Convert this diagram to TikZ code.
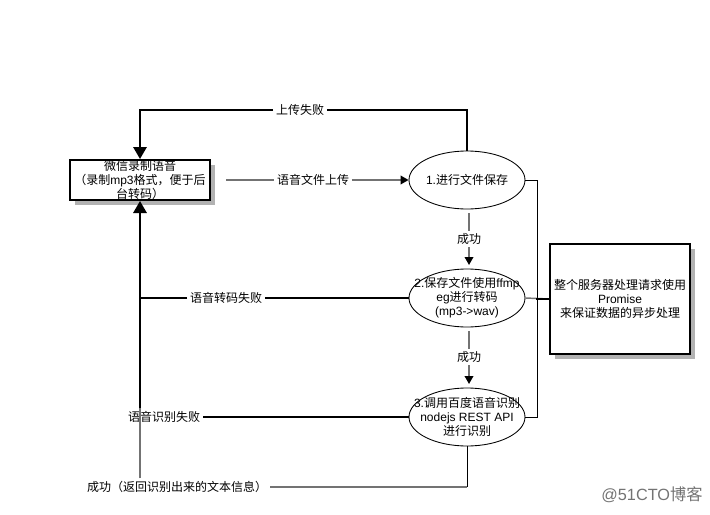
\documentclass[tikz,border=0pt]{standalone}
\usepackage{fontspec}
\setmainfont{Noto Sans CJK SC}
\newfontfamily\latinface{Liberation Sans}
\newcommand{\lat}[1]{{\latinface #1}}
\usepackage{tikz}
\usetikzlibrary{arrows.meta, positioning, shapes.geometric, shadows}

\tikzset{
    base font/.style={font=\fontsize{9}{10.5}\selectfont, align=center},
    shadowed/.style={draw, line width=1.5pt, fill=white, inner sep=0pt,
        drop shadow={shadow xshift=3.5pt, shadow yshift=-3.5pt, fill=gray!60, opacity=1}},
    stepnode/.style={draw, ellipse, fill=white, line width=0.65pt, inner sep=0pt,
        minimum width=87pt, minimum height=43.5pt},
    steptext/.style={base font, inner sep=0pt},
    edgelabel/.style={base font, fill=white, inner sep=2pt},
    bigarrow/.style={-{Triangle[length=9pt, width=10pt, color=black, fill=black]}},
    smallarrow/.style={-{Triangle[length=6pt, width=6.5pt, color=black, fill=black]}},
    failline/.style={line width=1.5pt, black},
    plainline/.style={line width=1.1pt, black!55},
    thinline/.style={line width=0.65pt, black}
}

\begin{document}
\begin{tikzpicture}[x=0.75pt, y=-0.75pt]
    \useasboundingbox (0,0) rectangle (710,514);

    % Boxes
    \node[shadowed, minimum width=105pt, minimum height=30pt,
        label={[steptext]center:微信录制语音\\（录制\lat{mp3}格式，便于后\\台转码）}] (wechat) at (140,180) {};
    \node[shadowed, minimum width=105pt, minimum height=82.5pt,
        label={[steptext]center:整个服务器处理请求使用\\\lat{Promise}\\来保证数据的异步处理}] (promise) at (620,299) {};

    % Steps
    \node[stepnode, label={[steptext]center:\lat{1.}进行文件保存}] (save) at (467,180) {};
    \node[stepnode, label={[steptext]center:\lat{2.}保存文件使用\lat{ffmp}\\\lat{eg}进行转码\\\lat{(mp3->wav)}}] (convert) at (467,298) {};
    \node[stepnode, label={[steptext]center:\lat{3.}调用百度语音识别\\\lat{nodejs REST API}\\进行识别}] (recognize) at (467,417) {};

    % Edge labels
    \node[edgelabel] (uploadfail) at (300,110) {上传失败};
    \node[edgelabel] (upload) at (313,180) {语音文件上传};
    \node[edgelabel] (okone) at (469,239) {成功};
    \node[edgelabel] (oktwo) at (469,357) {成功};
    \node[edgelabel] (convertfail) at (226,298) {语音转码失败};
    \node[edgelabel] (recognizefail) at (164,417) {语音识别失败};
    \node[edgelabel] (result) at (177,487) {成功（返回识别出来的文本信息）};

    \coordinate (uploadstart) at (226,180);
    \coordinate (okonestart) at (469,213);
    \coordinate (okoneend) at (469,265);
    \coordinate (oktwostart) at (469,331);
    \coordinate (oktwoend) at (469,384);

    % Upload
    \draw[failline] (save.north) |- (uploadfail.east);
    \draw[failline, bigarrow] (uploadfail.west) -| (wechat.north);
    \draw[plainline] (uploadstart) -- (upload.west);
    \draw[plainline, smallarrow] (upload.east) -- (save.west);

    % Success
    \draw[plainline] (okonestart) -- (okone.north);
    \draw[plainline, smallarrow] (okone.south) -- (okoneend);
    \draw[plainline] (oktwostart) -- (oktwo.north);
    \draw[plainline, smallarrow] (oktwo.south) -- (oktwoend);

    % Result back to the box
    \draw[thinline] (recognize.south) -- (recognize.south |- result.east);
    \draw[plainline, line width=1.5pt] (recognize.south |- result.east) -- (result.east);
    \draw[plainline, line width=1.5pt] (wechat.south |- result.north) -- (wechat.south |- recognizefail.north);

    % Failures
    \draw[failline] (recognize.west) -- (recognizefail.east);
    \draw[failline, bigarrow] (wechat.south |- recognizefail.north) -- (wechat.south);
    \draw[failline] (convert.west) -- (convertfail.east);
    \draw[failline] (convertfail.west) -- (wechat.south |- convertfail.west);

    % Side rail to the note
    \draw[thinline] (save.east) -- ++(12,0) |- (recognize.east);
    \draw[plainline] (convert.east) -- (promise.west);
    \draw[failline] (promise.west) -- ++(-13,0);

    % Watermark
    \node[font=\fontsize{12.2}{14}\selectfont, text=black!55, inner sep=0pt] (mark) at (652,495) {\lat{@51CTO}博客};
\end{tikzpicture}
\end{document}
